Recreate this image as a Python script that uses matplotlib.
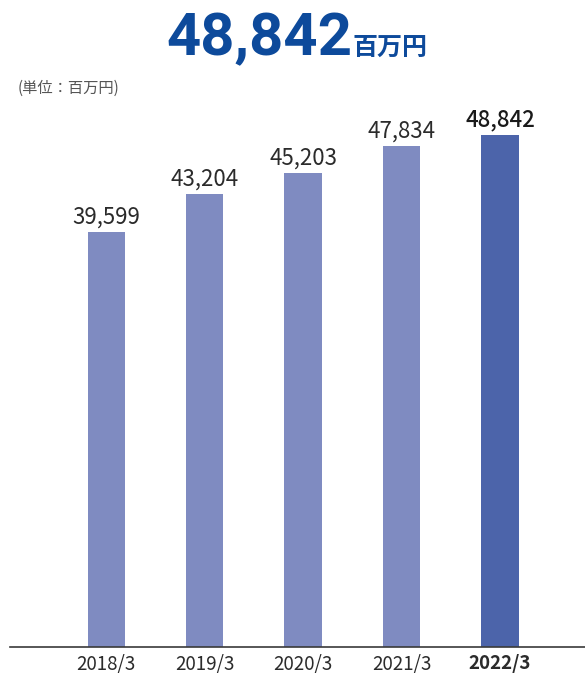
import matplotlib
matplotlib.use("Agg")
import matplotlib.pyplot as plt

plt.rcParams['font.family'] = ['Noto Sans CJK JP', 'DejaVu Sans']

# Net sales by fiscal year end (million yen)
years = ['2018/3', '2019/3', '2020/3', '2021/3', '2022/3']
values = [39599, 43204, 45203, 47834, 48842]
bar_colors = ['#7f8bc1', '#7f8bc1', '#7f8bc1', '#7f8bc1', '#4c64aa']

W, H = 585, 677
fig = plt.figure(figsize=(W / 100, H / 100), dpi=100)

# axes placed in pixel terms: baseline at y=647, top at y=100, left edge x=10
ax = fig.add_axes([10 / W, (H - 647) / H, (W - 10) / W, (647 - 100) / H])
x = list(range(len(values)))
ax.bar(x, values, width=0.376, color=bar_colors, zorder=2)
ax.set_xlim(-0.975, 4.863)
ax.set_ylim(0, 52180)

for side in ['top', 'right', 'left']:
    ax.spines[side].set_visible(False)
ax.spines['bottom'].set_color('#3a3a3a')
ax.spines['bottom'].set_linewidth(1.2)
ax.set_yticks([])
ax.set_xticks(x)
ax.set_xticklabels(years, fontsize=13.5, color='#2b2b2b')
ax.tick_params(axis='x', length=0, pad=5)
ax.get_xticklabels()[-1].set_fontweight('bold')

# value labels above each bar
for i, v in enumerate(values):
    last = i == len(values) - 1
    ax.annotate(f'{v:,}', (i, v), xytext=(0, 6), textcoords='offset points',
                ha='center', va='baseline', fontsize=16,
                color='#1a1a1a' if last else '#2b2b2b',
                fontweight='medium' if last else 'normal')

# headline figure
fig.text(352 / W, 1 - 55 / H, f'{values[-1]:,}', ha='right', va='baseline',
         fontsize=43, fontweight='bold', color='#0d4a9b',
         family=['Roboto', 'Noto Sans CJK JP'])
fig.text(353 / W, 1 - 55 / H, '百万円', ha='left', va='baseline',
         fontsize=18, fontweight='bold', color='#0d4a9b')

fig.text(18 / W, 1 - 93 / H, '(単位：百万円)', ha='left', va='baseline',
         fontsize=11, color='#555555')

fig.savefig('out.png', dpi=100)
